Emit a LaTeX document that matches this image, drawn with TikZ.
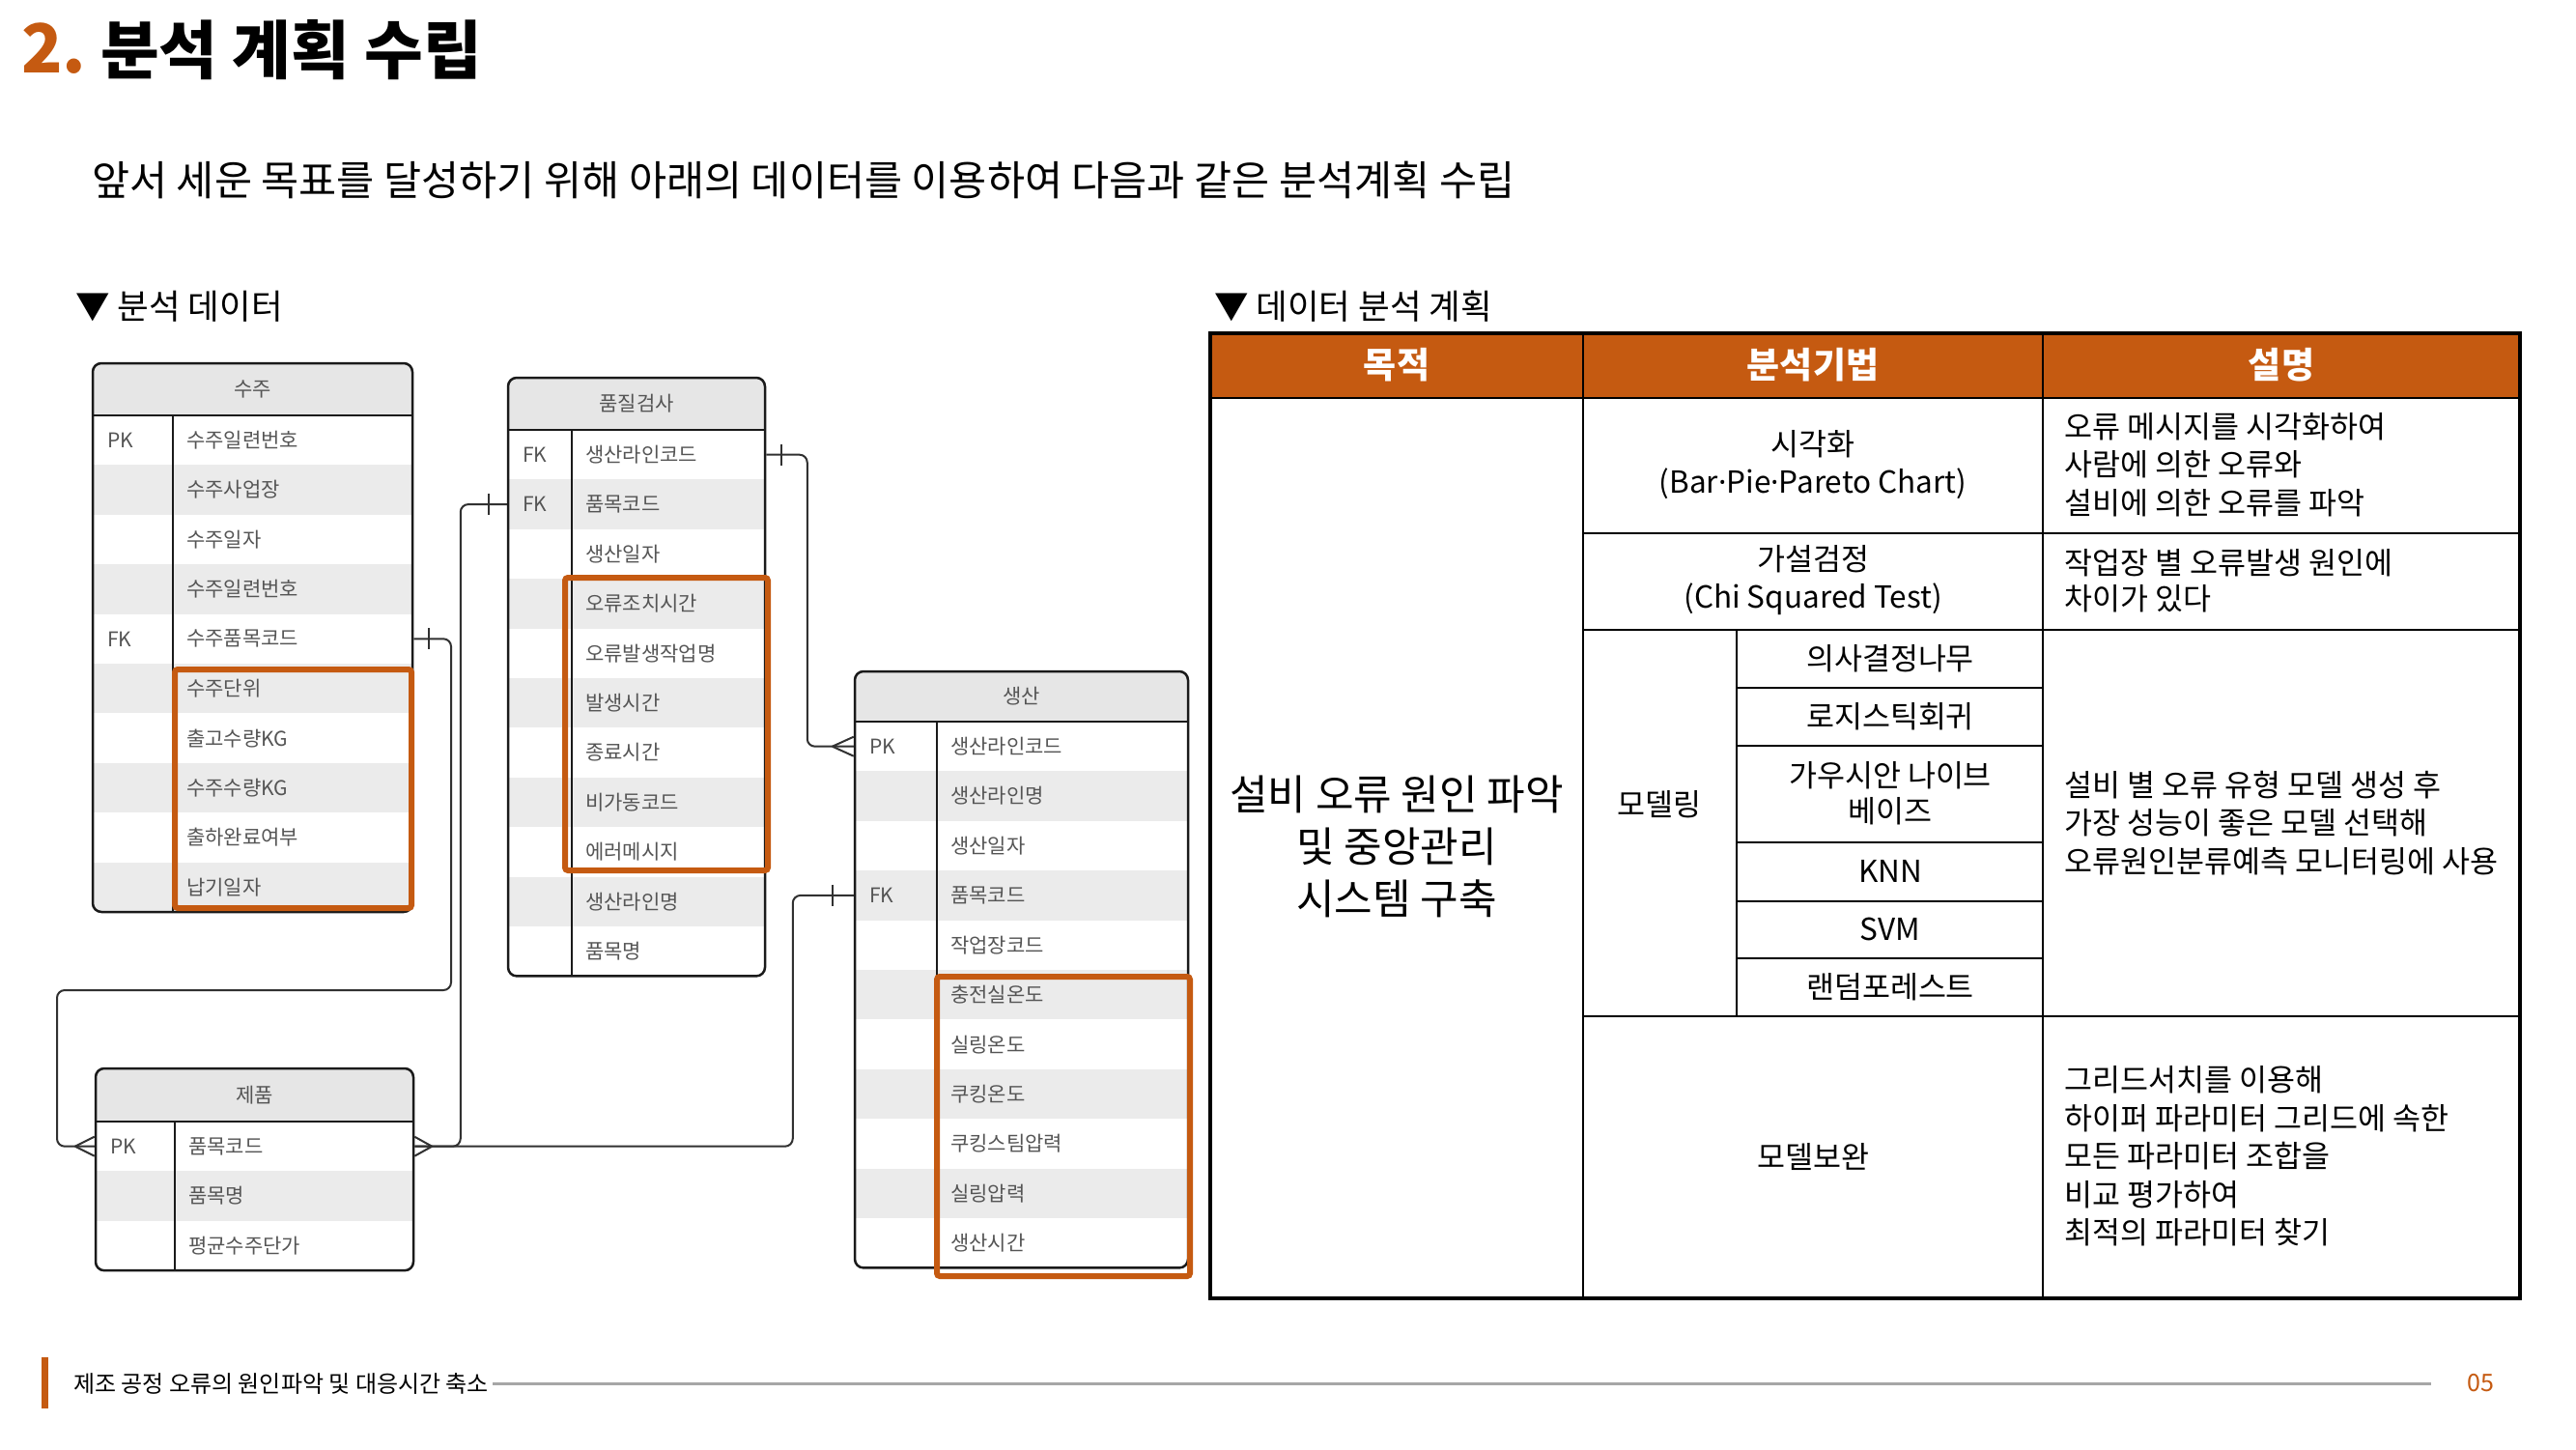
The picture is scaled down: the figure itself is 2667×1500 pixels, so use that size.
\documentclass[tikz,border=0pt]{standalone}
\usepackage{fontspec}
\setmainfont{Noto Sans CJK KR}
\newfontfamily\latinf{Noto Sans}
\definecolor{accent}{HTML}{C55A11}
\definecolor{hdrgray}{HTML}{E6E6E6}
\definecolor{rowgray}{HTML}{EBEBEB}
\definecolor{ertext}{HTML}{555555}
\definecolor{lineblack}{HTML}{1A1A1A}
\definecolor{footgray}{HTML}{A6A6A6}
\newcommand\myfs[2]{\fontsize{#1pt}{#2pt}\selectfont}
\newcommand\mdot{{\latinf ·}}
\def\rowh{51.4}
\tikzset{
  erline/.style={draw=lineblack, line width=2.5pt},
  erdiv/.style={draw=lineblack, line width=2pt},
  erframe/.style={draw=lineblack, line width=2.5pt, rounded corners=9pt, inner sep=0pt, fill=none},
  ertxt/.style={font=\myfs{21}{25}, text=ertext, inner sep=0pt},
  hlbox/.style={draw=accent, line width=6pt, rounded corners=3pt},
  conn/.style={draw=lineblack!90, line width=2pt, rounded corners=8pt},
  connplain/.style={draw=lineblack!90, line width=2pt},
  gridline/.style={draw=black, line width=2.5pt},
  hdr/.style={text=white, font=\bfseries\myfs{37}{44}, inner sep=0pt},
  cell/.style={inner sep=0pt, font=\myfs{31.5}{39}},
  desc/.style={inner sep=0pt, font=\myfs{31.5}{39.5}, anchor=west, align=left},
}
\newcommand\ERtable[9]{%
  \pgfmathsetmacro\erB{#6+#7*\rowh}%
  \begin{scope}
    \clip[rounded corners=9pt] (#2,#3) rectangle (#4,\erB);
    \fill[hdrgray] (#2,#3) rectangle (#4,#6);
    \foreach[count=\i] \k/\f in {#9}{%
      \pgfmathsetmacro\ya{#6+(\i-1)*\rowh}%
      \ifodd\i\else\fill[rowgray] (#2,\ya) rectangle (#4,\ya+\rowh);\fi
    }
  \end{scope}
  \draw[erline] (#2,#6) -- (#4,#6);
  \draw[erdiv] (#5,#6) -- (#5,\erB);
  \node[erframe, minimum width={(#4-#2)*1pt}, minimum height={(\erB-#3)*1pt}] (#1) at ({(#2+#4)/2},{(#3+\erB)/2}) {};
  \node[ertxt] (#1-h) at ({(#2+#4)/2},{(#3+#6)/2}) {#8};
  \foreach[count=\i] \k/\f in {#9}{%
    \pgfmathsetmacro\ym{#6+(\i-0.5)*\rowh}%
    \node[ertxt, anchor=west] (#1-k\i) at (#2+15,\ym) {\k};
    \node[ertxt, anchor=west] (#1-r\i) at (#5+14,\ym) {\f};
  }%
}
\begin{document}
\begin{tikzpicture}[x=1pt,y=-1pt]
\useasboundingbox (0,0) rectangle (2667,1500);
\fill[white] (0,0) rectangle (2667,1500);

% ---------- title ----------
\node[anchor=west, inner sep=0pt, text=accent, font=\bfseries\myfs{70}{80}] (num) at (22,50) {2.};
\node[anchor=west, inner sep=0pt, font=\bfseries\myfs{66}{76}] (title) at (104,52) {분석 계획 수립};
\node[anchor=west, inner sep=0pt, font=\myfs{42.5}{50}] (sub) at (95,186) {앞서 세운 목표를 달성하기 위해 아래의 데이터를 이용하여 다음과 같은 분석계획 수립};
\node[anchor=west, inner sep=0pt, font=\myfs{35.5}{42}] (secL) at (78,317) {▼ 분석 데이터};
\node[anchor=west, inner sep=0pt, font=\myfs{35.5}{42}] (secR) at (1257,317) {▼ 데이터 분석 계획};

% ---------- ER tables ----------
\ERtable{suju}{96}{376}{427}{179}{430}{10}{수주}{PK/수주일련번호,{}/수주사업장,{}/수주일자,{}/수주일련번호,FK/수주품목코드,{}/수주단위,{}/출고수량KG,{}/수주수량KG,{}/출하완료여부,{}/납기일자}
\ERtable{pum}{526}{391}{792}{592}{445}{11}{품질검사}{FK/생산라인코드,FK/품목코드,{}/생산일자,{}/오류조치시간,{}/오류발생작업명,{}/발생시간,{}/종료시간,{}/비가동코드,{}/에러메시지,{}/생산라인명,{}/품목명}
\ERtable{saeng}{885}{695}{1230}{970}{747}{11}{생산}{PK/생산라인코드,{}/생산라인명,{}/생산일자,FK/품목코드,{}/작업장코드,{}/충전실온도,{}/실링온도,{}/쿠킹온도,{}/쿠킹스팀압력,{}/실링압력,{}/생산시간}
\ERtable{jepum}{99}{1106}{428}{181}{1161}{3}{제품}{PK/품목코드,{}/품목명,{}/평균수주단가}

% highlight boxes
\draw[hlbox] (181,693) rectangle (426,940);
\draw[hlbox] (585,598) rectangle (795,901);
\draw[hlbox] (970,1011) rectangle (1232,1321);

% ---------- connectors ----------
\coordinate (b1a) at (467,1025);
\coordinate (b1b) at (59,1025);
\coordinate (bA) at ([xshift=-48pt]pum.west |- pum-r2);
\coordinate (bB) at ([xshift=-63pt]saeng.west |- saeng-r4);
\coordinate (bC) at ([xshift=-48pt]saeng.west |- saeng-r1);

\draw[conn] (suju.east |- suju-r5) -| (b1a) -- (b1b) |- (jepum.west |- jepum-r1);
\draw[connplain] (suju.east |- suju-r5) ++(16,-11) -- ++(0,22);
\draw[connplain] (jepum.west |- jepum-r1) ++(-20,0) -- ++(20,-10) ++(-20,10) -- ++(20,10);

\draw[conn] (jepum.east |- jepum-r1) -| (bA) -- (pum.west |- pum-r2);
\draw[connplain] (pum.west |- pum-r2) ++(-19,-11) -- ++(0,22);
\draw[connplain] (jepum.east |- jepum-r1) ++(18,0) -- ++(-18,-10) ++(18,10) -- ++(-18,10);

\draw[conn] (jepum.east |- jepum-r1) -| (bB) -- (saeng.west |- saeng-r4);
\draw[connplain] (saeng.west |- saeng-r4) ++(-22,-11) -- ++(0,22);

\draw[conn] (pum.east |- pum-r1) -| (bC) -- (saeng.west |- saeng-r1);
\draw[connplain] (pum.east |- pum-r1) ++(16,-11) -- ++(0,22);
\draw[connplain] (saeng.west |- saeng-r1) ++(-22,0) -- ++(22,-10) ++(-22,10) -- ++(22,10);

% ---------- analysis plan table ----------
\fill[accent] (1253,345) rectangle (2609,412);
\draw[gridline] (1253,412) -- (2609,412);
\draw[gridline] (1639,552) -- (2609,552);
\draw[gridline] (1639,652) -- (2609,652);
\foreach \yy in {712,772,872,933,992} \draw[gridline] (1798,\yy) -- (2115,\yy);
\draw[gridline] (1639,1052) -- (2609,1052);
\draw[gridline] (1639,345) -- (1639,1344);
\draw[gridline] (2115,345) -- (2115,1344);
\draw[gridline] (1798,652) -- (1798,1052);
\draw[draw=black, line width=3.5pt] (1253,345) rectangle (2609,1344);

\node[hdr] (hgoal) at (1446,378) {목적};
\node[hdr] (hmeth) at (1877,378) {분석기법};
\node[hdr] (hdesc) at (2362,378) {설명};

\node[inner sep=0pt, font=\myfs{43}{54}, align=center] (goal) at (1446,876) {설비 오류 원인 파악\\및 중앙관리\\시스템 구축};

\node[cell, align=center] (m1) at (1877,481) {시각화\\(Bar\mdot Pie\mdot Pareto Chart)};
\node[cell, align=center] (m2) at (1877,601) {가설검정\\(Chi Squared Test)};
\node[cell] (m3) at (1718,833) {모델링};
\node[cell] (m3a) at (1957,682) {의사결정나무};
\node[cell] (m3b) at (1957,742) {로지스틱회귀};
\node[cell, align=center, font=\myfs{31.5}{37}] (m3c) at (1957,821) {가우시안 나이브\\베이즈};
\node[cell] (m3d) at (1957,902) {KNN};
\node[cell] (m3e) at (1957,962) {SVM};
\node[cell] (m3f) at (1957,1022) {랜덤포레스트};
\node[cell] (m4) at (1877,1198) {모델보완};

\node[desc] (d1) at (2137,481) {오류 메시지를 시각화하여\\사람에 의한 오류와\\설비에 의한 오류를 파악};
\node[desc, font=\myfs{31.5}{37}] (d2) at (2137,601) {작업장 별 오류발생 원인에\\차이가 있다};
\node[desc] (d3) at (2137,852) {설비 별 오류 유형 모델 생성 후\\가장 성능이 좋은 모델 선택해\\오류원인분류예측 모니터링에 사용};
\node[desc] (d4) at (2137,1197) {그리드서치를 이용해\\하이퍼 파라미터 그리드에 속한\\모든 파라미터 조합을\\비교 평가하여\\최적의 파라미터 찾기};

% ---------- footer ----------
\fill[accent] (43,1405) rectangle (50,1458);
\node[anchor=west, inner sep=0pt, font=\myfs{24}{28}] (foot) at (76,1432) {제조 공정 오류의 원인파악 및 대응시간 축소};
\coordinate (fl) at (510,1432);
\coordinate (fr) at (2517,1432);
\draw[draw=footgray, line width=3pt] (fl) -- (fr);
\node[inner sep=0pt, text=accent, font=\myfs{25}{30}] (page) at (2568,1432) {05};
\end{tikzpicture}
\end{document}
